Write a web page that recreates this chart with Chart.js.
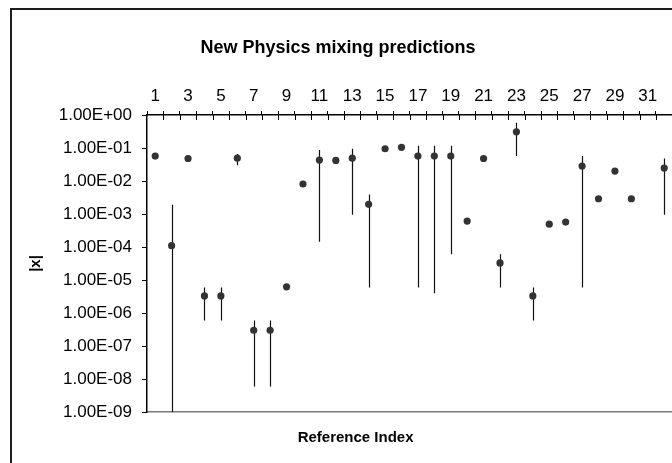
<!DOCTYPE html>
<html>
<head>
<meta charset="utf-8">
<script src="https://cdn.jsdelivr.net/npm/chart.js@4/dist/chart.umd.min.js"></script>
<style>
  html, body { margin: 0; padding: 0; background: #fff; overflow: hidden; }
  #wrap { position: relative; width: 676px; height: 463px; }
  #frame { position: absolute; left: 10px; top: 8px; right: -10px; bottom: -10px;
           border-left: 2px solid #1e1e1e; border-top: 2px solid #1e1e1e; pointer-events: none; }
</style>
</head>
<body>
<div id="wrap">
  <canvas id="mixChart" width="676" height="463"></canvas>
  <div id="frame"></div>
</div>
<script>
// Reference index 1..32 (right edge of the plot is cut off)
const categories = ['1','2','3','4','5','6','7','8','9','10','11','12','13','14','15','16',
                    '17','18','19','20','21','22','23','24','25','26','27','28','29','30','31','32'];

// central value of |x|
const values = [0.057, 1.1e-4, 0.048, 3.3e-6, 3.3e-6, 0.049, 3e-7, 3e-7, 6.2e-6, 8.1e-3,
                0.043, 0.042, 0.049, 1.96e-3, 0.095, 0.105, 0.057, 0.057, 0.057, 6.1e-4,
                0.048, 3.3e-5, 0.31, 3.3e-6, 4.9e-4, 5.7e-4, 0.0285, 2.9e-3, 0.020, 2.9e-3,
                null, 0.0247];

// error bar ends (null = no bar)
const errHigh = [null, 1.9e-3, null, 5.9e-6, 5.9e-6, 0.066, 5.9e-7, 5.9e-7, null, null,
                 0.087, null, 0.095, 3.9e-3, null, null, 0.117, 0.117, 0.117, null,
                 null, 6e-5, 0.58, 5.9e-6, null, null, 0.057, null, null, null,
                 null, 0.048];
const errLow = [null, 1e-10, null, 5.9e-7, 5.9e-7, 0.030, 5.9e-9, 5.9e-9, null, null,
                1.45e-4, null, 9.5e-4, 5.9e-6, null, null, 5.9e-6, 4e-6, 6e-5, null,
                null, 5.9e-6, 0.057, 5.9e-7, null, null, 5.9e-6, null, null, null,
                null, 9.5e-4];

const yTickValues = [1, 1e-1, 1e-2, 1e-3, 1e-4, 1e-5, 1e-6, 1e-7, 1e-8, 1e-9];
const yTickLabels = ['1.00E+00', '1.00E-01', '1.00E-02', '1.00E-03', '1.00E-04',
                     '1.00E-05', '1.00E-06', '1.00E-07', '1.00E-08', '1.00E-09'];

const FONT = 'Arial, "Liberation Sans", Helvetica, sans-serif';

// vertical error bars drawn through the scales
const errorBars = {
    id: 'errorBars',
    beforeDatasetsDraw(chart) {
        const ctx = chart.ctx;
        const xs = chart.scales.x;
        const ys = chart.scales.y;
        const area = chart.chartArea;
        ctx.save();
        ctx.beginPath();
        ctx.rect(area.left, area.top, area.right - area.left, area.bottom - area.top);
        ctx.clip();
        ctx.strokeStyle = '#111';
        ctx.lineWidth = 1.2;
        for (let i = 0; i < categories.length; i++) {
            if (errHigh[i] == null || errLow[i] == null) continue;
            const px = Math.round(xs.getPixelForValue(i)) + 0.5;
            const yHi = ys.getPixelForValue(errHigh[i]);
            const yLo = Math.min(ys.getPixelForValue(errLow[i]), area.bottom + 5);
            ctx.beginPath();
            ctx.moveTo(px, yHi);
            ctx.lineTo(px, yLo);
            ctx.stroke();
        }
        ctx.restore();
    }
};

// tick marks crossing the top axis, plus the bottom axis title
const extras = {
    id: 'extras',
    afterDraw(chart) {
        const ctx = chart.ctx;
        const xs = chart.scales.x;
        const area = chart.chartArea;
        const step = (xs.right - xs.left) / categories.length;
        ctx.save();
        ctx.strokeStyle = '#000';
        ctx.lineWidth = 1;
        for (let i = 1; i <= categories.length; i++) {
            const px = Math.round(xs.left + i * step) + 0.5;
            ctx.beginPath();
            ctx.moveTo(px, area.top);
            ctx.lineTo(px, area.top + 5);
            ctx.stroke();
        }
        ctx.fillStyle = '#000';
        ctx.font = 'bold 15px ' + FONT;
        ctx.textAlign = 'center';
        ctx.textBaseline = 'middle';
        ctx.fillText('Reference Index', area.left + (area.right - area.left) * 0.397, 438);
        ctx.restore();
    }
};

const ctx = document.getElementById('mixChart').getContext('2d');

new Chart(ctx, {
    type: 'line',
    data: {
        labels: categories,
        datasets: [{
            data: values,
            showLine: false,
            pointRadius: 3.6,
            pointHoverRadius: 3.6,
            pointBackgroundColor: '#333',
            pointBorderColor: '#333',
            pointBorderWidth: 0
        }]
    },
    options: {
        responsive: false,
        animation: false,
        events: [],
        layout: { padding: 0 },
        plugins: {
            legend: { display: false },
            tooltip: { enabled: false },
            title: {
                display: true,
                text: 'New Physics mixing predictions',
                color: '#000',
                font: { family: FONT, size: 18, weight: 'bold' },
                padding: { top: 37, bottom: 6 }
            }
        },
        scales: {
            x: {
                type: 'category',
                position: 'top',
                offset: true,
                grid: { display: true, drawOnChartArea: false, tickLength: 4, color: '#000', offset: true },
                border: { display: true, color: '#000', width: 1.5 },
                ticks: {
                    autoSkip: false,
                    maxRotation: 0,
                    padding: 4,
                    color: '#000',
                    font: { family: FONT, size: 17 },
                    callback: (v, i) => (i % 2 === 0 ? categories[i] : '')
                },
                afterFit: (s) => { s.height = 50.4; }
            },
            x2: {
                type: 'category',
                position: 'bottom',
                labels: categories,
                offset: true,
                grid: { display: false },
                border: { display: true, color: '#7a7a7a', width: 1.5 },
                ticks: { display: false },
                afterFit: (s) => { s.height = 51; }
            },
            y: {
                type: 'logarithmic',
                min: 1e-9,
                max: 1,
                grid: { display: true, drawOnChartArea: false, tickLength: 5, color: '#000' },
                border: { display: true, color: '#000', width: 1.5 },
                afterBuildTicks: (s) => { s.ticks = yTickValues.map(v => ({ value: v })); },
                ticks: {
                    padding: 10,
                    color: '#000',
                    font: { family: FONT, size: 17 },
                    callback: (v) => {
                        const k = yTickValues.findIndex(t => Math.abs(Math.log10(t) - Math.log10(v)) < 1e-6);
                        return k >= 0 ? yTickLabels[k] : '';
                    }
                },
                title: {
                    display: true,
                    text: '|x|',
                    color: '#000',
                    font: { family: FONT, size: 15, weight: 'bold' },
                    padding: { top: 27, bottom: 0 }
                },
                afterFit: (s) => { s.width = 147; }
            }
        }
    },
    plugins: [errorBars, extras]
});
</script>
</body>
</html>
